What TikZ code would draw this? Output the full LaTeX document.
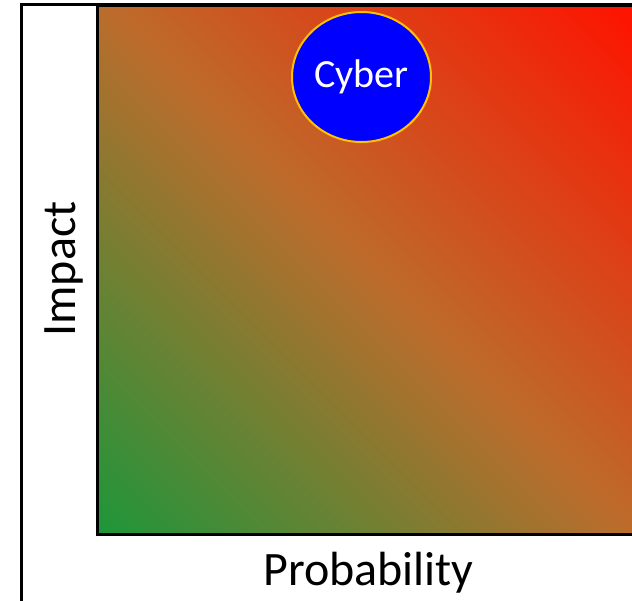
\documentclass[tikz,border=0pt]{standalone}
\usepackage{fontspec}
\setmainfont{Carlito}
\definecolor{gGreen}{RGB}{30,150,58}
\definecolor{gMid}{RGB}{188,108,44}
\definecolor{gRed}{RGB}{255,18,0}
\definecolor{cBlue}{RGB}{0,0,255}
\definecolor{cGold}{RGB}{255,192,0}
\tikzset{
  frame/.style={draw=black, line width=3},
  bubble/.style={ellipse, fill=cBlue, draw=cGold, line width=2, minimum width=139, minimum height=130, inner sep=0pt, text=white, font=\fontsize{40}{40}\selectfont},
  axislabel/.style={font=\fontsize{48}{48}\selectfont, inner sep=0pt, anchor=base}
}
\usetikzlibrary{shapes.geometric}
\begin{document}
\begin{tikzpicture}[x=1pt,y=-1pt]
\useasboundingbox (0,0) rectangle (632,600);
% outer frame
\draw[frame] (21,4) rectangle (720,720);
% gradient square
\begin{scope}
  \clip (97,5) rectangle (720,534);
  \foreach \i in {0,...,199}{
    \pgfmathsetmacro{\a}{\i*5.32}
    \pgfmathsetmacro{\b}{(\i+1)*5.32+1.5}
    \pgfmathsetmacro{\t}{(\i+0.5)/200}
    \pgfmathtruncatemacro{\p}{\t<0.5 ? round(100*(1-2*\t)) : round(200*\t-100)}
    \ifdim\t pt<0.5pt
      \colorlet{bandc}{gGreen!\p!gMid}
    \else
      \colorlet{bandc}{gRed!\p!gMid}
    \fi
    \fill[bandc] (-100,{-100-\a+437}) -- (900,{900-\a+437}) -- (900,{900-\b+437}) -- (-100,{-100-\b+437}) -- cycle;
  }
\end{scope}
\draw[frame] (97,5) rectangle (720,534);
\node[bubble] (cyber) at (361.5,77) {Cyber};
\node[axislabel, rotate=90] (impact) at (75,269) {Impact};
\node[axislabel] (prob) at (368.5,585) {Probability};
\end{tikzpicture}
\end{document}
